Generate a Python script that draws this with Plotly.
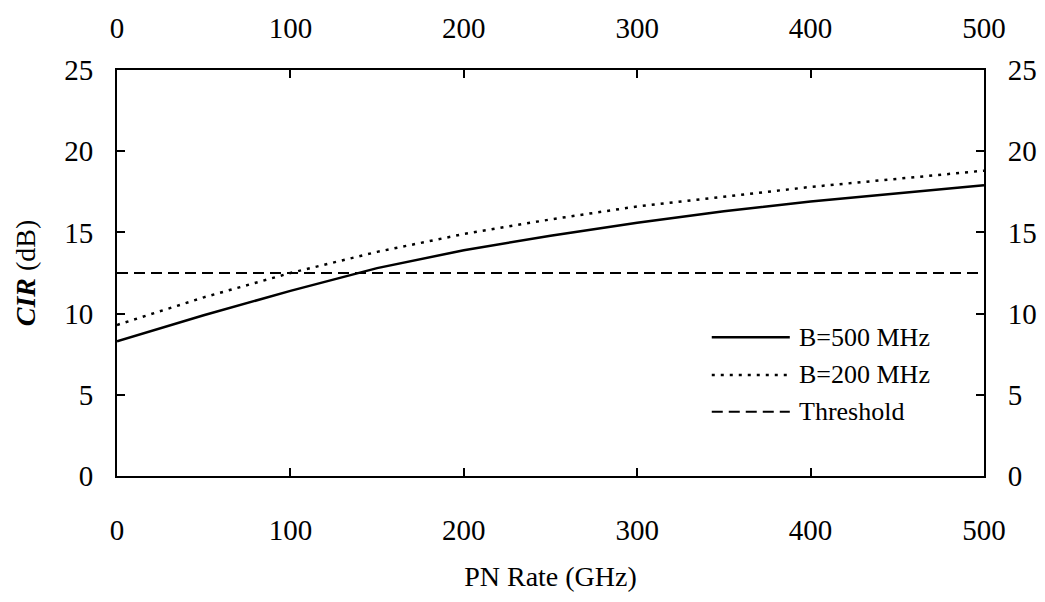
import plotly.graph_objects as go

pn_rate = [0, 50, 100, 150, 200, 250, 300, 350, 400, 450, 500]
cir_b500 = [8.3, 9.9, 11.4, 12.8, 13.9, 14.8, 15.6, 16.3, 16.9, 17.4, 17.9]
cir_b200 = [9.3, 11.0, 12.5, 13.8, 14.9, 15.8, 16.6, 17.2, 17.8, 18.3, 18.8]
threshold = [12.5] * len(pn_rate)

series_names = ["B=500 MHz", "B=200 MHz", "Threshold"]
x_ticks = [0, 100, 200, 300, 400, 500]
y_ticks = [0, 5, 10, 15, 20, 25]

FONT = "Liberation Serif, Times New Roman, serif"
styles = [
    dict(color="black", width=2.5, dash="solid"),
    dict(color="black", width=2.5, dash="3px,6px"),
    dict(color="black", width=2, dash="11px,6px"),
]

fig = go.Figure()
for name, vals, st in zip(series_names, [cir_b500, cir_b200, threshold], styles):
    fig.add_trace(go.Scatter(x=pn_rate, y=vals, mode="lines", name=name,
                             line=st, showlegend=False))
# invisible trace to activate the mirrored top / right axes
fig.add_trace(go.Scatter(x=pn_rate, y=threshold, xaxis="x2", yaxis="y2", mode="lines",
                         line=dict(width=0), showlegend=False, hoverinfo="skip", opacity=0))

# legend drawn in paper coordinates (long sample lines as in the original)
legend_rows = [0.342, 0.249, 0.158]
for name, st, ly in zip(series_names, styles, legend_rows):
    fig.add_shape(type="line", xref="paper", yref="paper", x0=0.686, x1=0.776, y0=ly, y1=ly,
                  line=st)
    fig.add_annotation(xref="paper", yref="paper", x=0.784, y=ly, text=name, showarrow=False,
                       xanchor="left", yanchor="middle",
                       font=dict(family=FONT, size=26, color="black"))

axis_common = dict(
    showgrid=False, zeroline=False, showline=True, linecolor="black", linewidth=2,
    ticks="inside", ticklen=8, tickwidth=1.5, tickcolor="black", automargin=False,
    tickfont=dict(family=FONT, size=29, color="black"),
)

fig.update_layout(
    width=1045, height=602,
    paper_bgcolor="white", plot_bgcolor="white",
    margin=dict(l=109, r=69, t=62, b=134),
    font=dict(family=FONT, color="black"),
    xaxis=dict(range=[0, 500], tickvals=x_ticks, ticklabelstandoff=27,
               title=dict(text="PN Rate (GHz)", font=dict(family=FONT, size=28), standoff=22),
               **axis_common),
    xaxis2=dict(range=[0, 500], tickvals=x_ticks, overlaying="x", side="top",
                matches="x", ticklabelstandoff=18, **axis_common),
    yaxis=dict(range=[0, 25], tickvals=y_ticks, ticklabelstandoff=16,
               title=dict(text="<b><i>CIR</i></b> (dB)", font=dict(family=FONT, size=28), standoff=20),
               **axis_common),
    yaxis2=dict(range=[0, 25], tickvals=y_ticks, overlaying="y", side="right",
                matches="y", ticklabelstandoff=16, **axis_common),
    showlegend=False,
)

fig.write_html("out.html")
